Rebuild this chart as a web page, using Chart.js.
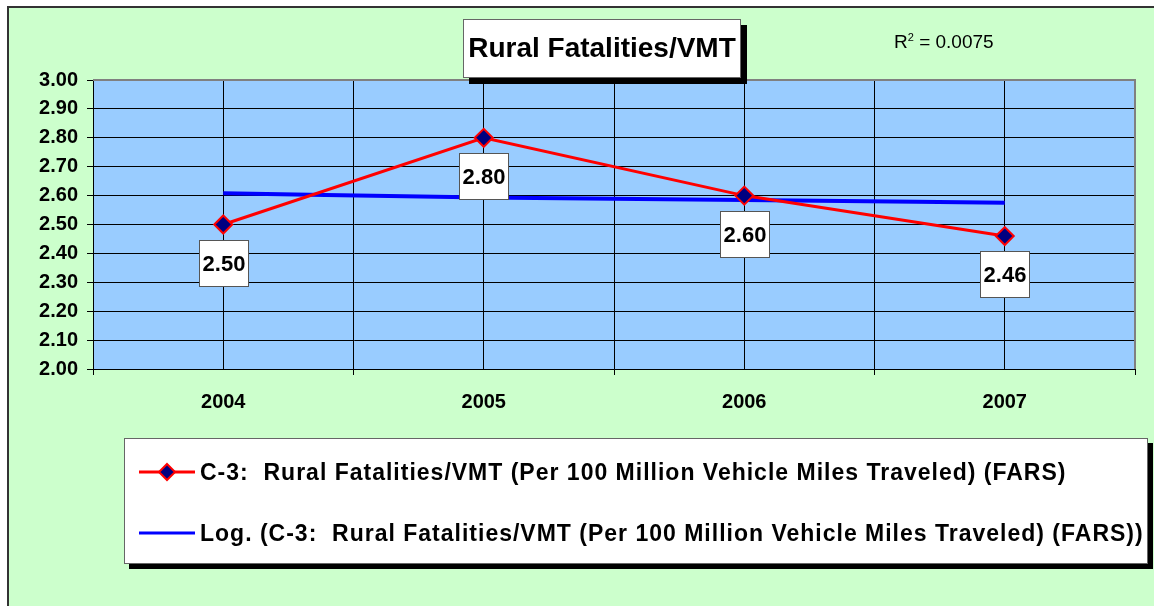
<!DOCTYPE html>
<html>
<head>
<meta charset="utf-8">
<script src="https://cdn.jsdelivr.net/npm/chart.js@4.4.1/dist/chart.umd.min.js"></script>
<style>
  body { margin: 0; background: #fff; width: 1154px; height: 606px; overflow: hidden; position: relative; font-family: "Liberation Sans", Arial, sans-serif; }
  #bg { position: absolute; left: 7px; top: 6px; width: 1200px; height: 700px; background: #CCFFCC; border-top: 2px solid #333; border-left: 2px solid #333; }
  #myChart { position: absolute; left: 0; top: 0; }
  #title { position: absolute; left: 463px; top: 19px; width: 276px; height: 57px; background: #fff; border: 1px solid #666; box-shadow: 6px 6px 0 #000; font-weight: bold; font-size: 28px; line-height: 56px; text-align: center; color: #000; }
  #r2 { position: absolute; left: 894px; top: 31px; font-size: 19px; color: #000; }
  #r2 sup { font-size: 11px; vertical-align: 7px; }
  #legend { position: absolute; left: 124px; top: 438px; width: 1022px; height: 124px; background: #fff; border: 1px solid #666; box-shadow: 5px 5px 0 #000; }
  .row { position: absolute; left: 13px; height: 26px; white-space: pre; font-weight: bold; font-size: 23px; line-height: 26px; letter-spacing: 1px; color: #000; }
  .row svg { position: absolute; left: 0; top: 3px; }
  .row span { position: absolute; left: 62px; top: 0; }
</style>
</head>
<body>
<div id="bg"></div>
<canvas id="myChart" width="1154" height="606"></canvas>
<div id="title">Rural Fatalities/VMT</div>
<div id="r2">R<sup>2</sup> = 0.0075</div>
<div id="legend">
  <div class="row" style="top:20px">
    <svg width="58" height="20"><line x1="1" y1="10" x2="57" y2="10" stroke="#FF0000" stroke-width="3"/><polygon points="29,2 37,10 29,18 21,10" fill="#000080" stroke="#FF0000" stroke-width="2"/></svg>
    <span id="leg1"></span>
  </div>
  <div class="row" style="top:81px">
    <svg width="58" height="20"><line x1="1" y1="10" x2="57" y2="10" stroke="#0000FF" stroke-width="3"/></svg>
    <span id="leg2"></span>
  </div>
</div>
<script>
const years = ['2004', '2005', '2006', '2007'];
const fatalityRate = [2.50, 2.80, 2.60, 2.46];
const logTrend = [2.608, 2.593, 2.585, 2.575];
const seriesName = 'C-3:  Rural Fatalities/VMT (Per 100 Million Vehicle Miles Traveled) (FARS)';
const trendName = 'Log. (' + seriesName + ')';

document.getElementById('leg1').textContent = seriesName;
document.getElementById('leg2').textContent = trendName;

const ctx = document.getElementById('myChart');

// light blue plot area, grey frame on top and right
const plotBg = {
  id: 'plotBg',
  beforeDraw(chart) {
    const a = chart.chartArea;
    const c = chart.ctx;
    c.save();
    c.fillStyle = '#99CCFF';
    c.fillRect(a.left, a.top, a.right - a.left, a.bottom - a.top);
    c.restore();
  },
  beforeDatasetsDraw(chart) {
    const a = chart.chartArea;
    const c = chart.ctx;
    c.save();
    c.strokeStyle = '#808080';
    c.lineWidth = 2;
    c.beginPath();
    c.moveTo(a.left, a.top);
    c.lineTo(a.right, a.top);
    c.lineTo(a.right, a.bottom);
    c.stroke();
    c.restore();
  }
};

// white value boxes under each point
const valueBoxes = {
  id: 'valueBoxes',
  afterDatasetsDraw(chart) {
    const c = chart.ctx;
    const meta = chart.getDatasetMeta(0);
    c.save();
    c.font = 'bold 22px "Liberation Sans", Arial, sans-serif';
    c.textAlign = 'center';
    c.textBaseline = 'middle';
    meta.data.forEach((pt, i) => {
      const w = 49, h = 46;
      const x = Math.round(pt.x - w / 2) + 0.5;
      const y = Math.round(pt.y + 15) + 0.5;
      c.fillStyle = '#fff';
      c.fillRect(x, y, w, h);
      c.strokeStyle = '#555';
      c.lineWidth = 1;
      c.strokeRect(x, y, w, h);
      c.fillStyle = '#000';
      c.fillText(fatalityRate[i].toFixed(2), x + w / 2, y + h / 2 + 1);
    });
    c.restore();
  }
};

const tickFont = { family: '"Liberation Sans", Arial, sans-serif', size: 20, weight: 'bold' };

new Chart(ctx, {
  type: 'line',
  data: {
    labels: years,
    datasets: [
      {
        label: seriesName,
        data: fatalityRate,
        borderColor: '#FF0000',
        borderWidth: 3,
        pointStyle: 'rectRot',
        pointRadius: 9,
        pointBackgroundColor: '#000080',
        pointBorderColor: '#FF0000',
        pointBorderWidth: 2,
        tension: 0
      },
      {
        label: trendName,
        data: logTrend,
        borderColor: '#0000FF',
        borderWidth: 4,
        pointRadius: 0,
        cubicInterpolationMode: 'monotone'
      }
    ]
  },
  options: {
    responsive: false,
    animation: false,
    layout: { padding: { left: 7, top: 80, right: 19, bottom: 197 } },
    plugins: {
      legend: { display: false },
      title: { display: false },
      tooltip: { enabled: false }
    },
    scales: {
      x: {
        offset: true,
        grid: {
          offset: true,
          color: c => c.index === years.length ? 'rgba(0,0,0,0)' : '#000',
          tickColor: '#000',
          tickLength: 6
        },
        border: { color: '#000', width: 1 },
        ticks: { font: tickFont, color: '#000', padding: 15, maxRotation: 0 },
        afterFit(s) { s.height = 40; }
      },
      x2: {
        type: 'category',
        position: 'bottom',
        offset: true,
        grid: { offset: false, color: '#000', drawTicks: false },
        border: { display: false },
        ticks: { display: false },
        afterFit(s) { s.height = 0; }
      },
      y: {
        min: 2,
        max: 3,
        grid: {
          color: c => (c.tick && c.tick.value > 2.999) ? 'rgba(0,0,0,0)' : '#000',
          tickColor: '#000',
          tickLength: 6
        },
        border: { color: '#000', width: 1 },
        ticks: {
          stepSize: 0.1,
          font: tickFont,
          color: '#000',
          padding: 9,
          callback: v => Number(v).toFixed(2)
        },
        afterFit(s) { s.width = 86; }
      }
    }
  },
  plugins: [plotBg, valueBoxes]
});
</script>
</body>
</html>
